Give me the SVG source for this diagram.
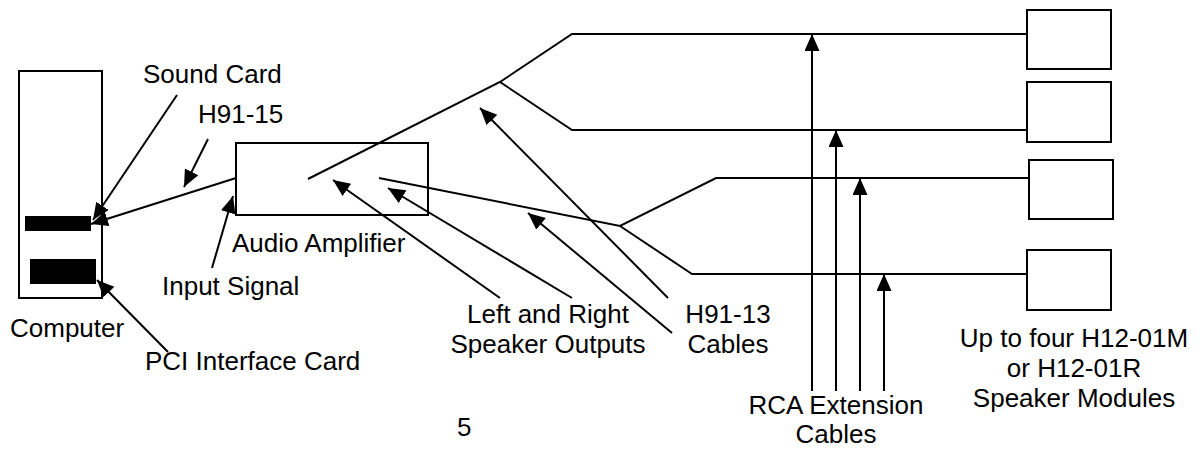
<svg xmlns="http://www.w3.org/2000/svg" width="1203" height="449" viewBox="0 0 1203 449">
<defs>
<style>
.box{fill:none;stroke:#000;stroke-width:2}
.bar{fill:#000}
.ln{fill:none;stroke:#000;stroke-width:2}
.ar{fill:none;stroke:#000;stroke-width:2;marker-end:url(#ah)}
text{font-family:"Liberation Sans",Arial,sans-serif;font-size:26px;fill:#000}
.m{text-anchor:middle}
</style>
<marker id="ah" markerUnits="userSpaceOnUse" markerWidth="18" markerHeight="16" refX="17" refY="7.5" orient="auto" viewBox="0 0 18 16">
<path d="M0,0 L17,7.5 L0,15 z" fill="#000"/>
</marker>
</defs>
<rect width="1203" height="449" fill="#fff"/>
<g id="computer">
<rect class="box" x="19" y="71" width="83" height="227"/>
<rect class="bar" x="25" y="216" width="66" height="15"/>
<rect class="bar" x="30" y="259" width="66" height="25"/>
<text x="10" y="337">Computer</text>
</g>
<g id="sound-card-label"><text x="143" y="83">Sound Card</text></g>
<g id="pci-label"><text x="145" y="370">PCI Interface Card</text></g>
<g id="h91-15-label"><text x="198" y="123">H91-15</text></g>
<g id="input-signal-label"><text x="162" y="295">Input Signal</text></g>
<g id="amplifier">
<rect class="box" x="236" y="143" width="192" height="72"/>
<text x="232" y="252">Audio Amplifier</text>
</g>
<g id="outputs-label"><text class="m" x="548" y="323">Left and Right</text><text class="m" x="548" y="353">Speaker Outputs</text></g>
<g id="h91-13-label"><text class="m" x="728" y="323">H91-13</text><text class="m" x="728" y="353">Cables</text></g>
<g id="rca-label"><text class="m" x="836" y="414">RCA Extension</text><text class="m" x="836" y="443">Cables</text></g>
<g id="speaker1"><rect class="box" x="1027" y="10" width="84" height="59"/></g>
<g id="speaker2"><rect class="box" x="1027" y="82" width="84" height="60"/></g>
<g id="speaker3"><rect class="box" x="1029" y="160" width="84" height="59"/></g>
<g id="speaker4"><rect class="box" x="1027" y="250" width="84" height="60"/></g>
<g id="speakers-label"><text class="m" x="1074" y="347">Up to four H12-01M</text><text class="m" x="1074" y="377">or H12-01R</text><text class="m" x="1074" y="407">Speaker Modules</text></g>
<g id="page-number"><text x="457" y="436">5</text></g>
<g id="connectors">
<polyline class="ln" points="308,179 500,82 572,34 1027,34"/>
<polyline class="ln" points="500,82 572,130 1027,130"/>
<polyline class="ln" points="379,178 620,226 716,178 1029,178"/>
<polyline class="ln" points="620,226 692,274 1027,274"/>
<line class="ar" x1="236" y1="178" x2="91" y2="224"/>
<line class="ar" x1="812" y1="391" x2="812" y2="34"/>
<line class="ar" x1="836" y1="391" x2="836" y2="130"/>
<line class="ar" x1="860" y1="391" x2="860" y2="178"/>
<line class="ar" x1="884" y1="391" x2="884" y2="274"/>
<line class="ar" x1="177" y1="95" x2="93" y2="220"/>
<line class="ar" x1="208" y1="139" x2="184" y2="187"/>
<line class="ar" x1="212" y1="268" x2="233" y2="196"/>
<line class="ar" x1="168" y1="352" x2="97" y2="280"/>
<line class="ar" x1="500" y1="298" x2="333" y2="180"/>
<line class="ar" x1="572" y1="298" x2="388" y2="188"/>
<line class="ar" x1="668" y1="298" x2="480" y2="108"/>
<line class="ar" x1="672" y1="333" x2="528" y2="213"/>
</g>
</svg>
